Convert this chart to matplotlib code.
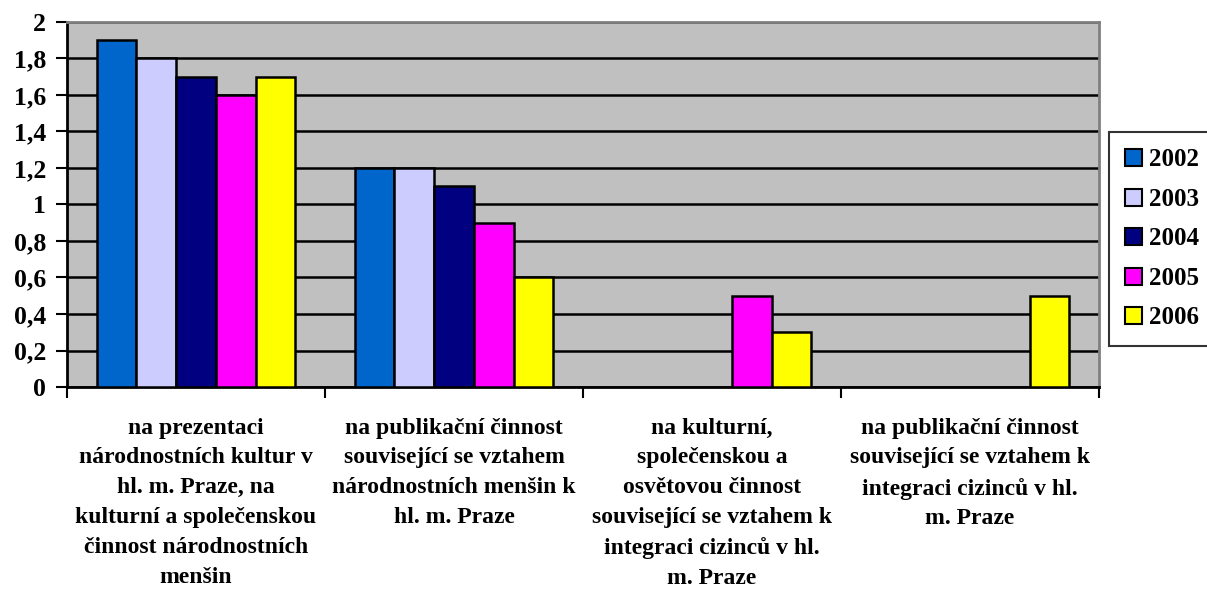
import numpy as np
import matplotlib.pyplot as plt
from matplotlib.patches import Patch

plt.rcParams['font.family'] = ['Liberation Serif', 'DejaVu Serif']
plt.rcParams['font.weight'] = 'bold'

categories = ["na prezentaci\nnárodnostních kultur v\nhl. m. Praze, na\nkulturní a společenskou\nčinnost národnostních\nmenšin",
              "na publikační činnost\nsouvisející se vztahem\nnárodnostních menšin k\nhl. m. Praze",
              "na kulturní,\nspolečenskou a\nosvětovou činnost\nsouvisející se vztahem k\nintegraci cizinců v hl.\nm. Praze",
              "na publikační činnost\nsouvisející se vztahem k\nintegraci cizinců v hl.\nm. Praze"]
years = ["2002", "2003", "2004", "2005", "2006"]
v2002 = [1.9, 1.2, 0, 0]
v2003 = [1.8, 1.2, 0, 0]
v2004 = [1.7, 1.1, 0, 0]
v2005 = [1.6, 0.9, 0.5, 0]
v2006 = [1.7, 0.6, 0.3, 0.5]
series = [v2002, v2003, v2004, v2005, v2006]
colors = ['#0066CC', '#CCCCFF', '#000080', '#FF00FF', '#FFFF00']

fig = plt.figure(figsize=(12.07, 5.9), dpi=100)
ax = fig.add_axes([0.0555, 0.344, 0.855, 0.619])
ax.set_facecolor('#C0C0C0')

x = np.arange(len(categories))
w = 1 / 6.5
for i, (vals, c) in enumerate(zip(series, colors)):
    xs = x + (i - 2) * w
    for xi, v in zip(xs, vals):
        if v > 0:
            ax.bar(xi, v, width=w, color=c, edgecolor='black', linewidth=1.8, zorder=3)

ax.set_xlim(-0.5, len(categories) - 0.5)
ax.set_ylim(0, 2)
yt = np.arange(0, 2.01, 0.2)
ax.set_yticks(yt)
ax.set_yticklabels([('%g' % round(t, 1)).replace('.', ',') for t in yt], fontsize=18.5, fontweight='bold')
ax.yaxis.grid(True, color='black', linewidth=1.8, zorder=1)
ax.set_axisbelow(True)

ax.set_xticks(np.arange(-0.5, len(categories)), minor=False)
ax.set_xticklabels([])
ax.set_xticks(x, minor=True)
ax.set_xticklabels(categories, minor=True, fontsize=17, fontweight='bold', linespacing=1.55)
ax.tick_params(axis='x', which='minor', length=0, pad=22)
ax.tick_params(axis='x', which='major', length=8, width=1.5, direction='out')
ax.tick_params(axis='y', length=8, width=1.5, direction='out', pad=7)

for s in ['left', 'bottom']:
    ax.spines[s].set_linewidth(2)
    ax.spines[s].set_color('black')
for s in ['top', 'right']:
    ax.spines[s].set_linewidth(2)
    ax.spines[s].set_color('#808080')

handles = [Patch(facecolor=c, edgecolor='black', linewidth=1.5) for c in colors]
leg = fig.legend(handles, years, loc='upper left', bbox_to_anchor=(0.919, 0.776),
                 prop={'family': 'Liberation Serif', 'weight': 'bold', 'size': 18},
                 frameon=True, fancybox=False, handlelength=0.68, handleheight=0.68,
                 handletextpad=0.25, labelspacing=0.66, borderpad=0.65, borderaxespad=0)
leg.get_frame().set_edgecolor('black')
leg.get_frame().set_linewidth(1.5)

fig.savefig('out.png', dpi=100)
